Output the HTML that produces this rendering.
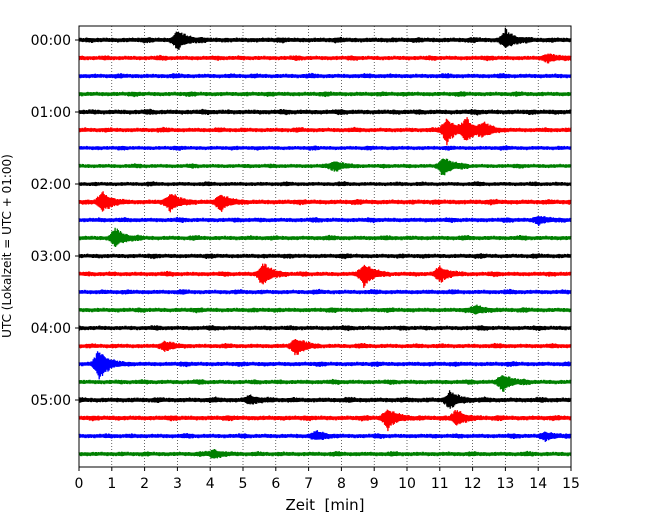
<!DOCTYPE html>
<html><head><meta charset="utf-8"><style>
html,body{margin:0;padding:0;background:#fff;}
svg{display:block;font-family:"DejaVu Sans","Liberation Sans",sans-serif;}
</style></head><body>
<svg id="chart" width="650" height="520">
<g id="grid"></g>
<g id="traces"></g>
<rect x="79" y="26" width="492" height="441" fill="none" stroke="#000" stroke-width="1"/>
<g id="xaxis"></g>
<g id="yaxis"></g>
<text x="325" y="510" text-anchor="middle" font-size="15">Zeit&#160;&#160;[min]</text>
<text transform="translate(11,246) rotate(-90)" text-anchor="middle" font-size="12">UTC (Lokalzeit = UTC + 01:00)</text>
</svg>
<script>
const rowLabels = ["00:00","00:15","00:30","00:45","01:00","01:15","01:30","01:45","02:00","02:15","02:30","02:45","03:00","03:15","03:30","03:45","04:00","04:15","04:30","04:45","05:00","05:15","05:30","05:45"];
const rowColors = ["#000000","#ff0000","#0000ff","#008000"];
const xTicks = [0,1,2,3,4,5,6,7,8,9,10,11,12,13,14,15];
const yTickLabels = ["00:00","01:00","02:00","03:00","04:00","05:00"];
const yTickRows = [0,4,8,12,16,20];
const noiseLevel = [2.4,2.2,2.2,2.2,2.4,2.2,2.0,2.0,2.0,2.4,2.2,2.2,2.2,2.2,2.2,2.2,2.2,2.2,2.2,2.2,2.4,2.4,2.2,2.2];
const eventRows = [0,0,1,5,5,5,7,7,9,9,9,10,11,13,13,13,15,17,17,18,19,20,20,21,21,22,22,23];
const eventTimes = [3.0,13.0,14.3,11.2,11.8,12.3,7.8,11.1,0.7,2.8,4.3,14.0,1.1,5.6,8.7,11.0,12.1,6.6,2.6,0.6,12.9,11.3,5.2,9.4,11.5,7.2,14.2,4.1];
const eventAmps = [10,10,4,14,12,6,5,10,10,9,8,4,10,12,12,8,4,9,4,16,9,9,4,11,8,4,4,4];

const NS="http://www.w3.org/2000/svg";
const X0=79,X1=571,Y0=26,Y1=467;
const xs=m=>X0+(X1-X0)*m/15;
const ys=r=>40+18*r;
function mk(tag,attrs,parent){const e=document.createElementNS(NS,tag);for(const k in attrs)e.setAttribute(k,attrs[k]);parent.appendChild(e);return e;}
const grid=document.getElementById('grid'),tr=document.getElementById('traces'),xa=document.getElementById('xaxis'),ya=document.getElementById('yaxis');
xTicks.forEach(t=>{
  if(t>0&&t<15){const l=mk('line',{x1:xs(t),x2:xs(t),y1:Y0,y2:Y1,stroke:'#000','stroke-width':0.6,'stroke-dasharray':'1,2'},grid);
  
  }
  const tk=mk('line',{x1:xs(t),x2:xs(t),y1:Y1,y2:Y1+4,stroke:'#000'},xa);
  
  
  const tx=mk('text',{x:xs(t),y:Y1+21,'text-anchor':'middle','font-size':14},xa);tx.textContent=t;
  
  
});
yTickRows.forEach((r,i)=>{
  const tk=mk('line',{x1:X0-4,x2:X0,y1:ys(r),y2:ys(r),stroke:'#000'},ya);
  
  
  const tx=mk('text',{x:X0-8,y:ys(r)+5,'text-anchor':'end','font-size':14},ya);tx.textContent=yTickLabels[i];
  
  
});
function noise(i,r){return Math.sin(i*2.1+r*7.3)*0.5+Math.sin(i*5.37+r*1.9)*0.35+Math.sin(i*11.13+r*3.1)*0.25;}
function mod(i,r){const v=Math.sin(i*0.0371+r*2.3)*Math.sin(i*0.0893+r*0.7);return 1+0.6*Math.max(0,v-0.3);}
rowLabels.forEach((lab,r)=>{
  const N=900;let pts=[];
  for(let i=0;i<=N;i++){
    const m=15*i/N;let a=noiseLevel[r]*mod(i,r);
    for(let k=0;k<eventRows.length;k++){if(eventRows[k]!==r)continue;
      const d=m-eventTimes[k];if(d>-0.3&&d<0.8){const env=d<0?Math.pow((d+0.3)/0.3,2):Math.exp(-d*4);a+=eventAmps[k]*env;}}
    const s=(i%2?1:-1)*(0.6+0.4*Math.abs(noise(i,r)));
    pts.push(xs(m).toFixed(1)+','+(ys(r)+s*a).toFixed(1));
  }
  const p=mk('polyline',{points:pts.join(' '),fill:'none',stroke:rowColors[r%4],'stroke-width':1.3},tr);
  
  
});
</script>
</body></html>
